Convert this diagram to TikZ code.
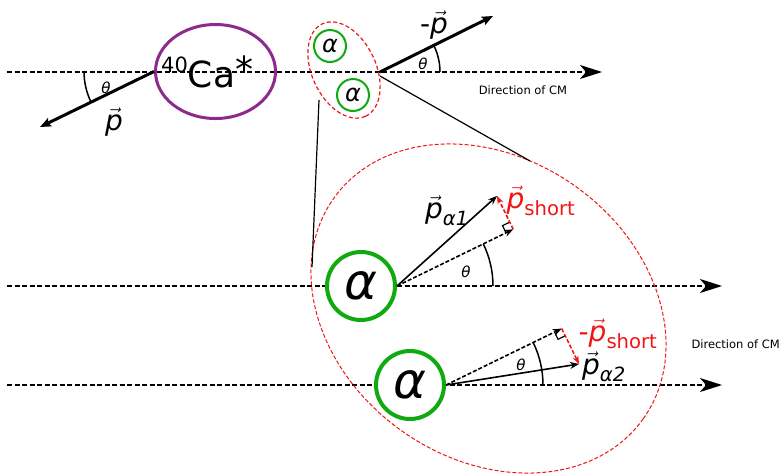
\documentclass[tikz,border=0pt]{standalone}
\usepackage{amsmath}
\usepackage{fontspec}
\setmainfont{DejaVu Sans}
\usetikzlibrary{arrows.meta,calc,shapes.geometric}
\definecolor{capurple}{RGB}{142,42,142}
\definecolor{agreen}{RGB}{16,170,16}
\definecolor{zred}{RGB}{240,20,20}
\newcommand{\fsz}[1]{\fontsize{#1}{#1}\selectfont}
\newcommand{\pv}{\ensuremath{\vec{\textit{p}}}}

\begin{document}
\begin{tikzpicture}[x=1pt,y=1pt,
  axis/.style={line width=1.5pt, dash pattern=on 5pt off 2.5pt, -{Stealth[length=22pt,width=14pt,inset=6pt]}},
  mom/.style={line width=3pt, -{Stealth[length=11pt,width=9pt,inset=2pt]}},
  nucleus/.style={ellipse, draw=capurple, line width=3pt, minimum width=120pt, minimum height=94pt, inner sep=0pt},
  cluster/.style={ellipse, draw=zred, line width=1.2pt, dash pattern=on 4pt off 2.5pt, inner sep=0pt},
  alphas/.style={circle, draw=agreen, line width=2pt, fill=white, minimum size=32pt, inner sep=0pt, font=\fsz{24}\itshape},
  alphab/.style={circle, draw=agreen, line width=4pt, fill=white, minimum size=68pt, inner sep=0pt, font=\fsz{50}\itshape},
  link/.style={line width=1.2pt},
  pa/.style={line width=1.6pt, -{Stealth[length=9pt,width=7pt]}},
  proj/.style={line width=1.6pt, dash pattern=on 4pt off 2pt, -{Stealth[length=9pt,width=7pt]}},
  shortvec/.style={draw=zred, line width=1.6pt, dash pattern=on 4pt off 2pt, -{Stealth[length=8pt,width=6pt]}},
  rightang/.style={line width=1.2pt},
  arcline/.style={line width=1.5pt},
  vlab/.style={font=\fsz{28}, inner sep=1pt},
  ang/.style={font=\fsz{15}\itshape, inner sep=1pt},
  cmtext/.style={font=\fsz{11.5}, inner sep=1pt}
]
\useasboundingbox (0,0) rectangle (781,-475);

\coordinate (s1) at (7,-72);  \coordinate (e1) at (602,-72);
\coordinate (s2) at (7,-286); \coordinate (e2) at (722,-286);
\coordinate (s3) at (7,-385); \coordinate (e3) at (722,-385);
\draw[axis] (s1) -- (e1);
\draw[axis] (s2) -- (e2);
\draw[axis] (s3) -- (e3);

% nucleus and the alpha pair
\node[nucleus] (ca) at (215.5,-71.5) {};
\node[font=\fsz{36}, anchor=base west, inner sep=0pt] (catxt) at (161,-87) {\raisebox{0.4em}{\fsz{21}40}Ca\raisebox{0.12em}{*}};
\node[cluster, minimum width=102pt, minimum height=64pt, rotate=-65] (pair) at (344,-70) {};
\node[alphas] (a1) at (330,-46) {α};
\node[alphas] (a2) at (353,-95) {α};

\coordinate (pl) at (40,-127);
\coordinate (o2) at (380,-72);
\coordinate (pr) at (493,-16);
\draw[mom] (ca.west) -- (pl);
\draw[mom] (o2) -- (pr);
\draw[arcline] ($(ca.west)+(-70,0)$) arc[start angle=180, end angle=206, radius=70];
\draw[arcline] ($(o2)+(60,0)$) arc[start angle=0, end angle=26, radius=60];

\node[vlab] (lp) at (114,-122) {\pv};
\node[ang] (th1) at (106,-88) {θ};
\node[vlab] (lmp) at (434,-25) {-\pv};
\node[ang] (th2) at (423,-64) {θ};
\node[cmtext] (cm1) at (523,-90) {Direction of CM};

% zoomed view
\node[cluster, line width=1pt, dash pattern=on 4pt off 2pt, minimum width=380pt, minimum height=300pt, rotate=-35.5] (zoom) at (488.5,-308.5) {};
\coordinate (z1) at (380,-76);  \coordinate (z2) at (530,-161);
\coordinate (z3) at (319,-100); \coordinate (z4) at (312,-267);
\draw[link] (z1) -- (z2);
\draw[link] (z3) -- (z4);

\node[alphab] (A1) at (361,-286) {α};
\node[alphab] (A2) at (410,-385) {α};

\coordinate (t1) at (497,-196);
\coordinate (u1) at ($(A1.east)+(26:100)$);
\coordinate (d1) at ($(A1.east)!(t1)!(u1)$);
\coordinate (m1) at ($(d1)!8pt!(A1.east)$);
\coordinate (n1) at ($(d1)!8pt!(t1)$);
\draw[rightang] (m1) -- ($(m1)+(n1)-(d1)$) -- (n1);
\draw[pa] (A1.east) -- (t1);
\draw[proj] (A1.east) -- (d1);
\draw[shortvec] (d1) -- (t1);
\draw[arcline] ($(A1.east)+(96,0)$) arc[start angle=0, end angle=26, radius=96];

\coordinate (t2) at (579,-364);
\coordinate (u2) at ($(A2.east)+(26:100)$);
\coordinate (d2) at ($(A2.east)!(t2)!(u2)$);
\coordinate (m2) at ($(d2)!8pt!(A2.east)$);
\coordinate (n2) at ($(d2)!8pt!(t2)$);
\draw[rightang] (m2) -- ($(m2)+(n2)-(d2)$) -- (n2);
\draw[pa] (A2.east) -- (t2);
\draw[proj] (A2.east) -- (d2);
\draw[shortvec] (d2) -- (t2);
\draw[arcline] ($(A2.east)+(97,0)$) arc[start angle=0, end angle=26, radius=97];

\node[vlab] (lpa1) at (447,-211) {$\vec{\textit{p}}_{\textit{α1}}$};
\node[vlab, text=zred] (lps1) at (541,-201) {$\vec{\textit{p}}_{\text{short}}$};
\node[ang] (th3) at (466,-272) {θ};
\node[ang] (th4) at (521,-365) {θ};
\node[vlab, text=zred] (lps2) at (618,-334) {-$\vec{\textit{p}}_{\text{short}}$};
\node[vlab] (lpa2) at (604,-367) {$\vec{\textit{p}}_{\textit{α2}}$};
\node[cmtext, anchor=east] (cm2) at (781,-344) {Direction of CM};
\end{tikzpicture}
\end{document}
